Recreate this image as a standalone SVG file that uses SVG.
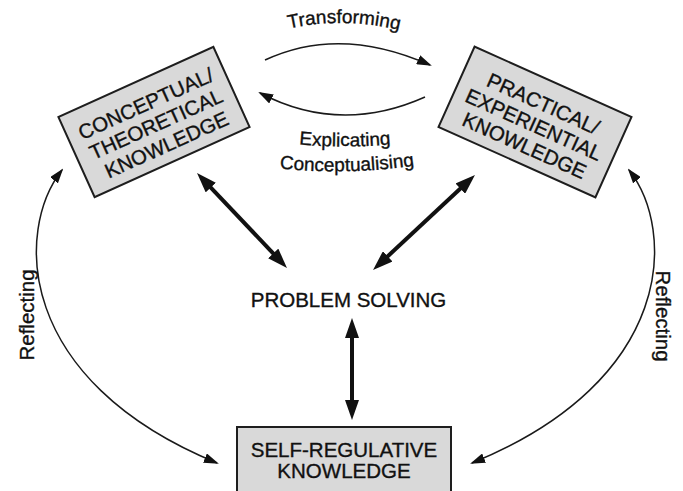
<svg xmlns="http://www.w3.org/2000/svg" width="683" height="491" viewBox="0 0 683 491">
<style>
  .box { fill: #d9d9d9; stroke: #1e1e1e; stroke-width: 2; }
  .t { font-family: "Liberation Sans", Arial, sans-serif; font-size: 20.5px; fill: #111; stroke: #111; stroke-width: 0.35; text-anchor: middle; }
  .lbl { font-family: "Liberation Sans", Arial, sans-serif; font-size: 19px; fill: #111; stroke: #111; stroke-width: 0.35; }
  .thin { fill: none; stroke: #1a1a1a; stroke-width: 1.5; }
  .thick { fill: none; stroke: #111; stroke-width: 4; }
</style>
<defs>
  <marker id="ah" viewBox="0 0 15 10" refX="13" refY="5" markerWidth="15" markerHeight="10" markerUnits="userSpaceOnUse" orient="auto-start-reverse">
    <path d="M0,0 L15,5 L0,10 z" fill="#111"/>
  </marker>
  <marker id="ahb" viewBox="0 0 20 14" refX="2" refY="7" markerWidth="20" markerHeight="14" markerUnits="userSpaceOnUse" orient="auto-start-reverse">
    <path d="M0,0 L20,7 L0,14 z" fill="#111"/>
  </marker>
  <path id="pTrans" d="M 278 31 Q 344 14 410 33"/>
  <path id="pExpl" d="M 285 143 Q 345 150 405 143"/>
  <path id="pConc" d="M 268 167 Q 345 177 426 164"/>
</defs>
<rect width="683" height="491" fill="#ffffff"/>

<g id="connectors">
  <path class="thin" d="M 265 60 Q 340 25 430 65" marker-end="url(#ah)"/>
  <path class="thin" d="M 425 97 Q 340 135 260 93" marker-end="url(#ah)"/>
  <path class="thin" d="M 62 170 C 15 230, 15 380, 217 463" marker-start="url(#ah)" marker-end="url(#ah)"/>
  <path class="thin" d="M 629 170 C 676 230, 676 380, 472 463" marker-start="url(#ah)" marker-end="url(#ah)"/>
  <line class="thick" x1="209.4" y1="186.1" x2="274.6" y2="254.9" marker-start="url(#ahb)" marker-end="url(#ahb)"/>
  <line class="thick" x1="461.8" y1="187.3" x2="386.2" y2="257.7" marker-start="url(#ahb)" marker-end="url(#ahb)"/>
  <line class="thick" x1="352" y1="336" x2="352" y2="402" marker-start="url(#ahb)" marker-end="url(#ahb)"/>
  <text class="lbl"><textPath href="#pTrans" startOffset="50%" text-anchor="middle">Transforming</textPath></text>
  <text class="lbl"><textPath href="#pExpl" startOffset="50%" text-anchor="middle">Explicating</textPath></text>
  <text class="lbl"><textPath href="#pConc" startOffset="50%" text-anchor="middle">Conceptualising</textPath></text>
  <text class="t" transform="translate(34,315) rotate(-90)">Reflecting</text>
  <text class="t" transform="translate(656,316) rotate(90)">Reflecting</text>
</g>

<g id="conceptual" transform="translate(154,122) rotate(-24.3)">
  <rect class="box" x="-85" y="-44" width="170" height="88"/>
  <text class="t" x="0" y="-13">CONCEPTUAL/</text>
  <text class="t" x="1" y="10">THEORETICAL</text>
  <text class="t" x="2" y="33">KNOWLEDGE</text>
</g>

<g id="practical" transform="translate(535,122) rotate(24.2)">
  <rect class="box" x="-86" y="-44" width="172" height="88"/>
  <text class="t" x="0" y="-13">PRACTICAL/</text>
  <text class="t" x="0" y="10">EXPERIENTIAL</text>
  <text class="t" x="0" y="33">KNOWLEDGE</text>
</g>

<g id="problem-solving">
  <text class="t" x="348.5" y="307">PROBLEM SOLVING</text>
</g>

<g id="self-regulative">
  <rect class="box" x="237" y="427" width="214" height="75"/>
  <text class="t" x="344" y="457">SELF-REGULATIVE</text>
  <text class="t" x="344" y="478">KNOWLEDGE</text>
</g>
</svg>
